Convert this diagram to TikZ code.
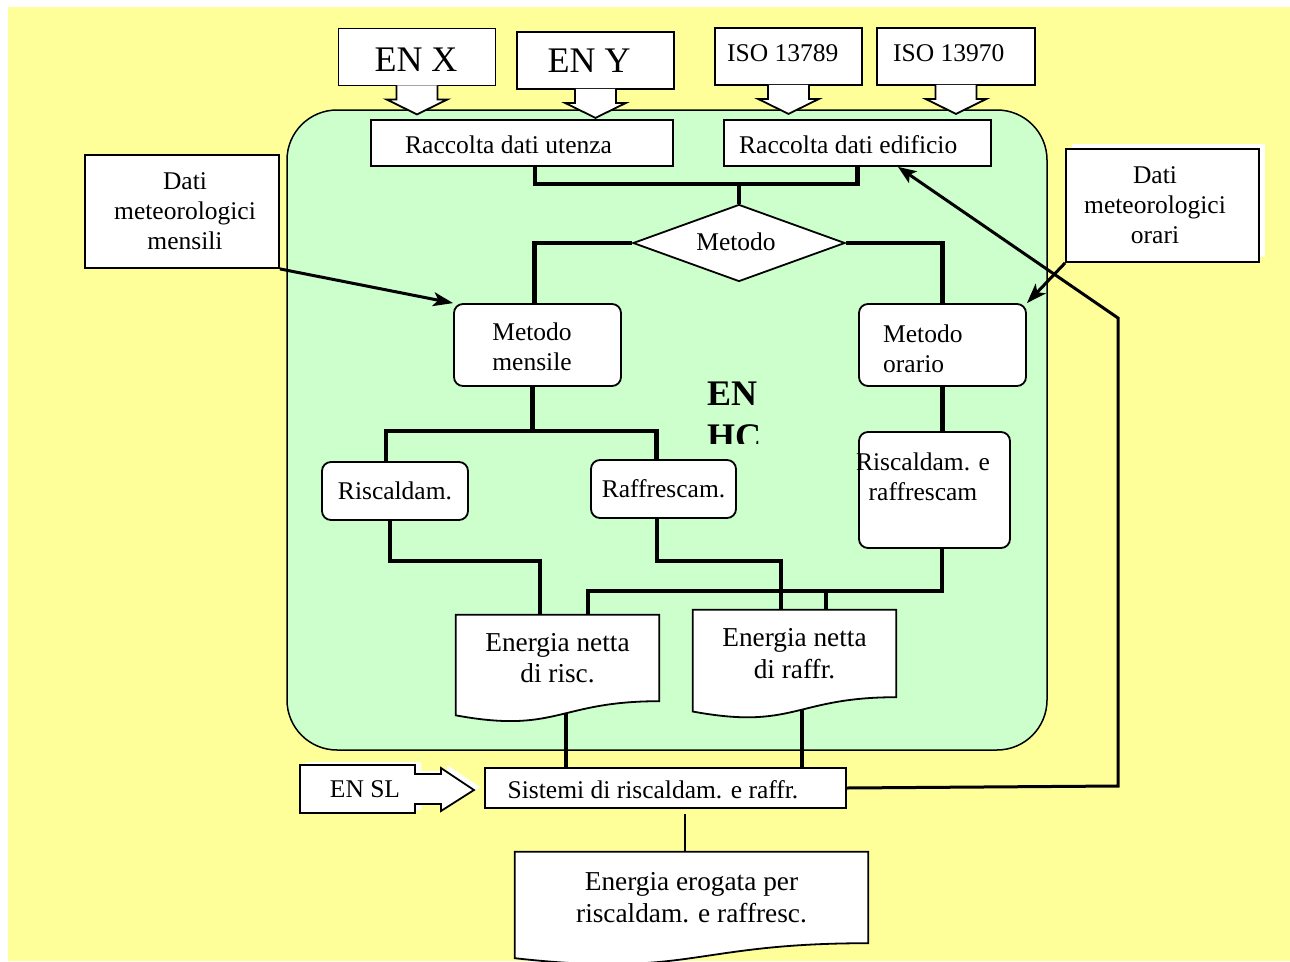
\documentclass[tikz,border=0pt]{standalone}
\usepackage{fontspec}
\setmainfont{Liberation Serif}
\usetikzlibrary{shapes.geometric,calc,arrows.meta}
\pgfdeclarelayer{back}
\pgfdeclarelayer{wires}
\pgfdeclarelayer{shapes}
\pgfsetlayers{back,wires,shapes,main}
\definecolor{pageyellow}{HTML}{FFFF99}
\definecolor{hcgreen}{HTML}{CCFFCC}

\begin{document}
\begin{tikzpicture}[x=1pt,y=-1pt,
  txt/.style={font=\fontsize{25.5}{30}\selectfont, align=center, inner sep=0pt},
  doctxt/.style={font=\fontsize{27.3}{31.5}\selectfont, align=center, inner sep=0pt},
  box/.style={draw, fill=white, line width=1.8pt, inner sep=0pt, rectangle, txt},
  rbox/.style={box, rounded corners=9pt},
  docarea/.style={inner sep=0pt, doctxt},
  docline/.style={draw, fill=white, line width=1.8pt},
  wire/.style={line width=4.5pt},
  thinwire/.style={line width=2pt},
  pointer/.style={line width=3pt, -{Stealth[length=20pt,width=14pt,inset=5pt]}},
  blockarrow/.style={fill=white, draw, line width=1.8pt, line join=miter},
  bigtxt/.style={font=\fontsize{36}{40}\selectfont},
]
\useasboundingbox (0,0) rectangle (1290,961);

% page and the EN HC container
\begin{pgfonlayer}{back}
  \fill[white] (0,0) rectangle (1290,961);
  \fill[pageyellow] (8,7) rectangle (1290,961);
  \node[draw, fill=hcgreen, line width=1.5pt, rounded corners=50pt,
        minimum width=760pt, minimum height=640pt, inner sep=0pt] (hc) at (667,430) {};
\end{pgfonlayer}

% standards feeding the data collection
\node[box, minimum width=157pt, minimum height=57pt] (enx) at (417,57) {};
\node[bigtxt, inner sep=0pt] (enxT) at (416,60) {EN X};
\node[box, minimum width=157pt, minimum height=57pt] (eny) at (595.5,60.5) {};
\node[bigtxt, inner sep=0pt] (enyT) at (589,61) {EN Y};
\node[box, minimum width=147pt, minimum height=57pt] (isoA) at (788.5,56.5) {};
\node[txt, anchor=west] (isoAT) at (727,53) {ISO 13789};
\node[box, minimum width=158pt, minimum height=57pt] (isoB) at (956,56.5) {};
\node[txt, anchor=west] (isoBT) at (893,53) {ISO 13970};

\foreach \b in {enx,eny,isoA,isoB}{
  \filldraw[blockarrow] ($(\b.south)+(-20.5,-1)$) -- ++(0,14) -- ++(-10,0)
    -- ($(\b.south)+(0,28)$) -- ($(\b.south)+(30.5,13)$) -- ++(-10,0) -- ++(0,-14);
}

% data collection
\node[box, minimum width=302pt, minimum height=46pt] (utenza) at (522,143) {};
\node[txt, anchor=west] (utenzaT) at (405,145) {Raccolta dati utenza};
\node[box, minimum width=267pt, minimum height=46pt] (edificio) at (857.5,143) {};
\node[txt, anchor=west] (edificioT) at (739,145) {Raccolta dati edificio};

% method choice
\node[box, diamond, aspect=2.75, minimum width=212pt, minimum height=77pt] (metodo) at (739,243) {};
\node[txt] (metodoT) at (736,242) {Metodo};

\node[rbox, minimum width=167pt, minimum height=82pt] (mensile) at (537.5,345) {};
\node[txt] (mensileT) at (532,347) {Metodo\\mensile};
\node[rbox, minimum width=167pt, minimum height=82pt] (orario) at (942.5,345) {};
\node[txt, anchor=west, align=left] (orarioT) at (883,349) {Metodo\\orario};

% EN HC label, cut at the bottom
\begin{scope}
  \clip (690,370) rectangle (800,443);
  \node[font=\fontsize{36}{43}\selectfont\bfseries, anchor=base west, inner sep=0pt] (hcA) at (707,405) {EN};
  \node[font=\fontsize{36}{43}\selectfont\bfseries, anchor=base west, inner sep=0pt] (hcB) at (707,448) {HC};
\end{scope}

\node[rbox, minimum width=146pt, minimum height=58pt] (riscA) at (395,491) {Riscaldam.};
\node[rbox, minimum width=145pt, minimum height=58pt] (raffA) at (663.5,489) {Raffrescam.};
\node[rbox, minimum width=151pt, minimum height=116pt] (rr) at (934.5,490) {};
\node[txt] (rrT) at (923,477) {Riscaldam. e\\raffrescam};

% net energy documents
\node[docarea, minimum width=203pt, minimum height=86pt] (riscD) at (557.5,658) {Energia netta\\di risc.};
\node[docarea, minimum width=203pt, minimum height=87pt] (raffD) at (794.5,653.5) {Energia netta\\di raffr.};

% systems
\node[box, minimum width=361pt, minimum height=40pt] (sistemi) at (665.5,788) {};
\node[txt] (sistemiT) at (653,790) {Sistemi di riscaldam. e raffr.};

% EN SL block arrow
\fill[white] (306,762) -- (421,762) -- (421,771) -- (447,771) -- (447,765) -- (480,787)
  -- (447,808) -- (447,801) -- (421,801) -- (421,810) -- (306,810) -- cycle;
\draw[blockarrow] (300,765) -- (415,765) -- (415,774) -- (441,774) -- (441,768) -- (474,790)
  -- (441,811) -- (441,804) -- (415,804) -- (415,813) -- (300,813) -- cycle;
\node[txt] (ensl) at (365,789) {EN SL};

% delivered energy
\node[docarea, minimum width=353pt, minimum height=91pt] (erog) at (691.5,897.5) {Energia erogata per\\riscaldam. e raffresc.};

% weather data
\node[box, minimum width=194pt, minimum height=113pt] (dmm) at (182,211.5) {};
\node[txt] (dmmT) at (185,211) {Dati\\meteorologici\\mensili};
\fill[white] (1072,144) rectangle (1265,257);
\node[box, minimum width=193pt, minimum height=113pt] (dmo) at (1162.5,205.5) {};
\node[txt] (dmoT) at (1155,205) {Dati\\meteorologici\\orari};

\draw[pointer] (dmm.south east) -- (mensile.north west);
\draw[pointer] (dmo.south west) -- (orario.north east);

% feedback from the systems to the building data
\coordinate (rc1) at (1118,786);
\coordinate (rc2) at (1118,318);
\draw[line width=3pt, line join=miter, -{Stealth[length=18pt,width=14pt,inset=4pt]}]
  (sistemi.east) -- (rc1) -- (rc2) -- ($(edificio.south)+(40.5,0)$);

% document outlines
\begin{pgfonlayer}{shapes}
  \foreach \n/\h in {riscD/86, raffD/87, erog/91}{
    \draw[docline] (\n.north west) -- (\n.north east) -- (\n.south east)
      .. controls (\n.south) and ($(\n.south)+(0,0.381*\h)$) .. ($(\n.south west)+(0,0.1646*\h)$) -- cycle;
  }
\end{pgfonlayer}

% flow connectors
\begin{pgfonlayer}{wires}
  \draw[wire] ($(utenza.south)+(13,0)$) -- ++(0,17) -| (edificio.south);
  \draw[wire] (metodo.north) -- ++(0,-22);
  \draw[wire] (metodo.west) -| ($(mensile.north)+(-3,0)$);
  \draw[wire] (metodo.east) -| (orario.north);
  \draw[wire] ($(mensile.south)+(-5,0)$) -- ++(0,46);
  \draw[wire] ($(riscA.north)+(-9,0)$) -- ++(0,-30) -| ($(raffA.north)+(-7,0)$);
  \draw[wire] (orario.south) -- (orario.south |- rr.north);
  \draw[wire] ($(riscA.south)+(-5,0)$) -- ++(0,40) -| ($(riscD.north)+(-17.5,0)$);
  \draw[wire] ($(raffA.south)+(-6.5,0)$) -- ++(0,42) -| ($(raffD.north)+(-13.5,0)$);
  \draw[wire] ($(rr.south)+(7.5,0)$) -- ++(0,42) -| ($(riscD.north)+(30.5,0)$);
  \draw[wire] ($(raffD.north)+(31.5,0)$) -- ++(0,-20);
  \coordinate (rd) at ($(riscD.south)+(8.5,0)$);
  \draw[wire] (rd) -- (rd |- sistemi.north);
  \coordinate (fd) at ($(raffD.south)+(7.5,0)$);
  \draw[wire] (fd) -- (fd |- sistemi.north);
  \draw[thinwire] ($(sistemi.south)+(19.5,5)$) -- ($(erog.north)+(-6.5,0)$);
\end{pgfonlayer}
\end{tikzpicture}
\end{document}
